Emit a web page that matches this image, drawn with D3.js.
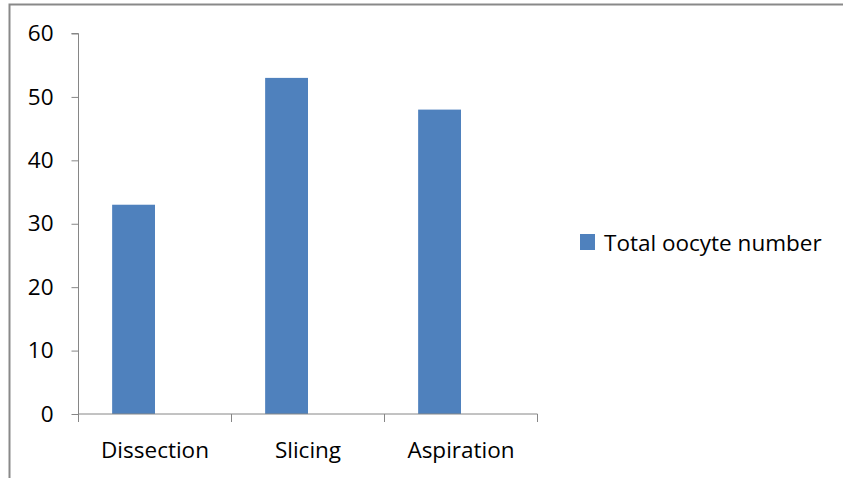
<!DOCTYPE html>
<html>
<head>
<meta charset="utf-8">
<script src="https://cdn.jsdelivr.net/npm/d3@7"></script>
<style>
  body { margin: 0; background: #fff; }
  text { font-family: "Open Sans", "Liberation Sans", sans-serif; fill: #000; }
</style>
</head>
<body>
<div class="graph"></div>
<script>
  // one series, values
  var categories = ['Dissection', 'Slicing', 'Aspiration'];
  var seriesName = 'Total oocyte number';
  var values = [33, 53, 48];
  var yTicks = [0, 10, 20, 30, 40, 50, 60];

  var W = 843, H = 478;
  var margin = {top: 33.5, left: 78.5},
      width = 459,
      height = 380.5;
  var fontSize = '22.5px';

  var svg = d3.select('.graph').append('svg')
      .attr('width', W)
      .attr('height', H);

  // outer chart border (cut off on right and bottom)
  svg.append('path')
      .attr('d', 'M9.5,' + H + 'V4.5H' + W)
      .attr('fill', 'none')
      .attr('stroke', '#898989')
      .attr('stroke-width', 2);

  var g = svg.append('g')
      .attr('transform', 'translate(' + margin.left + ',' + margin.top + ')');

  var x0 = d3.scaleBand().domain(categories).range([0, width]);
  // excel leaves room for a second (empty) series slot
  var x1 = d3.scaleBand().domain([seriesName, '']).range([0, x0.bandwidth()]).paddingOuter(0.785);
  var y = d3.scaleLinear().domain([0, 60]).range([height, 0]);

  g.selectAll('.bar')
    .data(values)
    .enter().append('rect')
      .attr('class', 'bar')
      .attr('x', function(d, i) { return x0(categories[i]) + x1(seriesName); })
      .attr('y', function(d) { return y(d); })
      .attr('width', x1.bandwidth())
      .attr('height', function(d) { return height - y(d); })
      .attr('fill', '#4F81BD');

  var yAxis = d3.axisLeft(y).tickValues(yTicks).tickSize(7).tickPadding(18);
  var yg = g.append('g').call(yAxis);
  yg.select('.domain').attr('d', 'M-7,0H0V' + height);

  // x axis with ticks at category boundaries
  var xg = g.append('g').attr('transform', 'translate(0,' + height + ')');
  xg.append('path')
      .attr('d', 'M0,0H' + width)
      .attr('stroke', '#868686');
  xg.selectAll('.bt')
    .data(d3.range(categories.length + 1))
    .enter().append('line')
      .attr('x1', function(i) { return i * x0.step(); })
      .attr('x2', function(i) { return i * x0.step(); })
      .attr('y1', 0)
      .attr('y2', 8)
      .attr('stroke', '#868686');
  xg.selectAll('.lbl')
    .data(categories)
    .enter().append('text')
      .attr('x', function(d) { return x0(d) + x0.bandwidth() / 2; })
      .attr('y', 44)
      .attr('text-anchor', 'middle')
      .style('font-size', fontSize)
      .text(function(d) { return d; });

  g.selectAll('.domain, .tick line').attr('stroke', '#868686');
  yg.selectAll('.tick text').style('font-size', fontSize).attr('fill', '#000');

  // legend
  var legend = svg.append('g').attr('transform', 'translate(580,234)');
  legend.append('rect')
      .attr('width', 15)
      .attr('height', 16)
      .attr('fill', '#4F81BD');
  legend.append('text')
      .attr('x', 24)
      .attr('y', 17)
      .style('font-size', fontSize)
      .text(seriesName);
</script>
</body>
</html>
